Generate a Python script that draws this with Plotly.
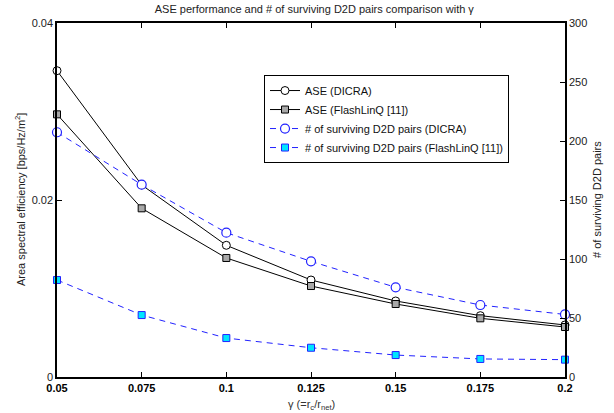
import plotly.graph_objects as go

gamma = [0.05, 0.075, 0.1, 0.125, 0.15, 0.175, 0.2]
x_ticklabels = ["0.05", "0.075", "0.1", "0.125", "0.15", "0.175", "0.2"]
ase_dicra = [0.03461, 0.0217, 0.01488, 0.01096, 0.00859, 0.00693, 0.00588]
ase_flash = [0.02968, 0.01906, 0.01345, 0.01028, 0.00825, 0.00663, 0.00565]
surv_dicra = [207.4, 163, 122.3, 98, 76, 61, 53]
surv_flash = [82.2, 52.5, 33, 24.8, 18.6, 15.3, 14.7]

FONT = "Liberation Sans, Arial, Helvetica, sans-serif"
BLUE = "#2222ff"

fig = go.Figure()
fig.add_trace(go.Scatter(
    x=gamma, y=ase_dicra, name="ASE (DICRA)", mode="lines+markers",
    line=dict(color="black", width=1),
    marker=dict(symbol="circle", size=8, color="white", line=dict(color="black", width=1)),
    cliponaxis=False))
fig.add_trace(go.Scatter(
    x=gamma, y=ase_flash, name="ASE (FlashLinQ [11])", mode="lines+markers",
    line=dict(color="black", width=1),
    marker=dict(symbol="square", size=7, color="#a8a8a8", line=dict(color="black", width=1)),
    cliponaxis=False))
fig.add_trace(go.Scatter(
    x=gamma, y=surv_dicra, name="# of surviving D2D pairs (DICRA)", mode="lines+markers",
    yaxis="y2",
    line=dict(color=BLUE, width=1, dash="6px,5px"),
    marker=dict(symbol="circle", size=9, color="white", line=dict(color=BLUE, width=1.2)),
    cliponaxis=False))
fig.add_trace(go.Scatter(
    x=gamma, y=surv_flash, name="# of surviving D2D pairs (FlashLinQ [11])", mode="lines+markers",
    yaxis="y2",
    line=dict(color=BLUE, width=1, dash="6px,5px"),
    marker=dict(symbol="square", size=7, color="#00e5ff", line=dict(color=BLUE, width=1)),
    cliponaxis=False))

fig.update_layout(
    width=614, height=413,
    margin=dict(l=57, r=49, t=23, b=36, autoexpand=False),
    paper_bgcolor="white", plot_bgcolor="white",
    font=dict(family=FONT, size=11, color="black"),
    title=dict(text="ASE performance and # of surviving D2D pairs comparison with γ",
               x=311 / 614, xanchor="center", xref="paper",
               y=1 - 9 / 413, yref="container", yanchor="middle",
               font=dict(size=11, color="#222")),
    showlegend=True,
    legend=dict(x=0.4075, y=0.853, xanchor="left", yanchor="top",
                bgcolor="white", bordercolor="black", borderwidth=1,
                font=dict(size=11, color="#111"), itemwidth=30,
                tracegroupgap=0),
    xaxis=dict(range=[0.05, 0.2], tickvals=gamma, ticktext=["<b>%s</b>" % t for t in x_ticklabels],
               ticks="inside", ticklen=5, tickcolor="black",
               showline=True, linecolor="black", linewidth=1.5, mirror="ticks",
               showgrid=False, zeroline=False, automargin=False,
               tickfont=dict(size=11)),
    yaxis=dict(range=[0, 0.04], tickvals=[0, 0.02, 0.04], ticktext=["0", "0.02", "0.04"],
               ticks="inside", ticklen=5, tickcolor="black",
               showline=True, linecolor="black", linewidth=1.5,
               showgrid=False, zeroline=False, automargin=False,
               tickfont=dict(size=11, color="#222")),
    yaxis2=dict(range=[0, 300], tickvals=[0, 50, 100, 150, 200, 250, 300],
                overlaying="y", side="right",
                ticks="inside", ticklen=5, tickcolor="black",
                showline=True, linecolor="black", linewidth=1.5,
                showgrid=False, zeroline=False, automargin=False,
                tickfont=dict(size=11, color="#222")),
    annotations=[
        dict(text="γ (=r<sub>c</sub>/r<sub>net</sub>)", xref="paper", yref="paper",
             x=0.5, y=-28 / 354, xanchor="center", yanchor="middle", showarrow=False,
             font=dict(size=11, color="#333")),
        dict(text="Area spectral efficiency [bps/Hz/m<sup>2</sup>]", xref="paper", yref="paper",
             x=-37 / 508, y=0.5, xanchor="center", yanchor="middle", textangle=-90,
             showarrow=False, font=dict(size=11, color="#222")),
        dict(text="# of surviving D2D pairs", xref="paper", yref="paper",
             x=1 + 32 / 508, y=0.5, xanchor="center", yanchor="middle", textangle=-90,
             showarrow=False, font=dict(size=11, color="#222")),
    ],
)

fig.write_html("out.html", config={"displayModeBar": False},
               post_script="document.body.style.margin='0';")
